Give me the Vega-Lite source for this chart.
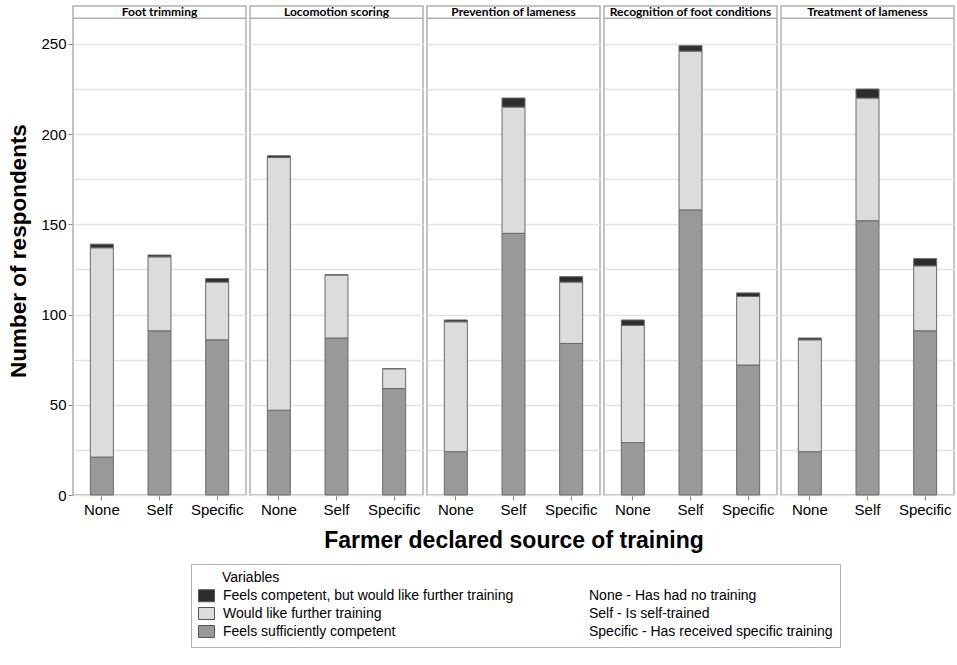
{
  "$schema": "https://vega.github.io/schema/vega-lite/v6.json",
  "description": "Stacked bars of respondents by training source, faceted by task.",
  "background": "white",
  "padding": {"left": 7, "top": 5, "right": 4, "bottom": 5},
  "bounds": "flush",
  "data": {
    "values": [
      {"Task": "Foot trimming", "Source": "None", "Variable": "Feels sufficiently competent", "Count": 21},
      {"Task": "Foot trimming", "Source": "None", "Variable": "Would like further training", "Count": 116},
      {"Task": "Foot trimming", "Source": "None", "Variable": "Feels competent, but would like further training", "Count": 2},
      {"Task": "Foot trimming", "Source": "Self", "Variable": "Feels sufficiently competent", "Count": 91},
      {"Task": "Foot trimming", "Source": "Self", "Variable": "Would like further training", "Count": 41},
      {"Task": "Foot trimming", "Source": "Self", "Variable": "Feels competent, but would like further training", "Count": 1},
      {"Task": "Foot trimming", "Source": "Specific", "Variable": "Feels sufficiently competent", "Count": 86},
      {"Task": "Foot trimming", "Source": "Specific", "Variable": "Would like further training", "Count": 32},
      {"Task": "Foot trimming", "Source": "Specific", "Variable": "Feels competent, but would like further training", "Count": 2},
      {"Task": "Locomotion scoring", "Source": "None", "Variable": "Feels sufficiently competent", "Count": 47},
      {"Task": "Locomotion scoring", "Source": "None", "Variable": "Would like further training", "Count": 140},
      {"Task": "Locomotion scoring", "Source": "None", "Variable": "Feels competent, but would like further training", "Count": 1},
      {"Task": "Locomotion scoring", "Source": "Self", "Variable": "Feels sufficiently competent", "Count": 87},
      {"Task": "Locomotion scoring", "Source": "Self", "Variable": "Would like further training", "Count": 35},
      {"Task": "Locomotion scoring", "Source": "Self", "Variable": "Feels competent, but would like further training", "Count": 0},
      {"Task": "Locomotion scoring", "Source": "Specific", "Variable": "Feels sufficiently competent", "Count": 59},
      {"Task": "Locomotion scoring", "Source": "Specific", "Variable": "Would like further training", "Count": 11},
      {"Task": "Locomotion scoring", "Source": "Specific", "Variable": "Feels competent, but would like further training", "Count": 0},
      {"Task": "Prevention of lameness", "Source": "None", "Variable": "Feels sufficiently competent", "Count": 24},
      {"Task": "Prevention of lameness", "Source": "None", "Variable": "Would like further training", "Count": 72},
      {"Task": "Prevention of lameness", "Source": "None", "Variable": "Feels competent, but would like further training", "Count": 1},
      {"Task": "Prevention of lameness", "Source": "Self", "Variable": "Feels sufficiently competent", "Count": 145},
      {"Task": "Prevention of lameness", "Source": "Self", "Variable": "Would like further training", "Count": 70},
      {"Task": "Prevention of lameness", "Source": "Self", "Variable": "Feels competent, but would like further training", "Count": 5},
      {"Task": "Prevention of lameness", "Source": "Specific", "Variable": "Feels sufficiently competent", "Count": 84},
      {"Task": "Prevention of lameness", "Source": "Specific", "Variable": "Would like further training", "Count": 34},
      {"Task": "Prevention of lameness", "Source": "Specific", "Variable": "Feels competent, but would like further training", "Count": 3},
      {"Task": "Recognition of foot conditions", "Source": "None", "Variable": "Feels sufficiently competent", "Count": 29},
      {"Task": "Recognition of foot conditions", "Source": "None", "Variable": "Would like further training", "Count": 65},
      {"Task": "Recognition of foot conditions", "Source": "None", "Variable": "Feels competent, but would like further training", "Count": 3},
      {"Task": "Recognition of foot conditions", "Source": "Self", "Variable": "Feels sufficiently competent", "Count": 158},
      {"Task": "Recognition of foot conditions", "Source": "Self", "Variable": "Would like further training", "Count": 88},
      {"Task": "Recognition of foot conditions", "Source": "Self", "Variable": "Feels competent, but would like further training", "Count": 3},
      {"Task": "Recognition of foot conditions", "Source": "Specific", "Variable": "Feels sufficiently competent", "Count": 72},
      {"Task": "Recognition of foot conditions", "Source": "Specific", "Variable": "Would like further training", "Count": 38},
      {"Task": "Recognition of foot conditions", "Source": "Specific", "Variable": "Feels competent, but would like further training", "Count": 2},
      {"Task": "Treatment of lameness", "Source": "None", "Variable": "Feels sufficiently competent", "Count": 24},
      {"Task": "Treatment of lameness", "Source": "None", "Variable": "Would like further training", "Count": 62},
      {"Task": "Treatment of lameness", "Source": "None", "Variable": "Feels competent, but would like further training", "Count": 1},
      {"Task": "Treatment of lameness", "Source": "Self", "Variable": "Feels sufficiently competent", "Count": 152},
      {"Task": "Treatment of lameness", "Source": "Self", "Variable": "Would like further training", "Count": 68},
      {"Task": "Treatment of lameness", "Source": "Self", "Variable": "Feels competent, but would like further training", "Count": 5},
      {"Task": "Treatment of lameness", "Source": "Specific", "Variable": "Feels sufficiently competent", "Count": 91},
      {"Task": "Treatment of lameness", "Source": "Specific", "Variable": "Would like further training", "Count": 36},
      {"Task": "Treatment of lameness", "Source": "Specific", "Variable": "Feels competent, but would like further training", "Count": 4}
    ]
  },
  "transform": [
    {
      "calculate": "indexof(['Feels sufficiently competent', 'Would like further training', 'Feels competent, but would like further training'], datum.Variable)",
      "as": "stackOrder"
    }
  ],
  "facet": {
    "column": {
      "field": "Task",
      "type": "nominal",
      "header": {
        "labels": false,
        "title": "Farmer declared source of training",
        "titleOrient": "bottom",
        "titleFont": "Liberation Sans",
        "titleFontSize": 23,
        "titleFontWeight": "bold",
        "titleColor": "black",
        "titlePadding": 3
      }
    }
  },
  "spacing": 4,
  "spec": {
    "width": 173,
    "height": 489,
    "layer": [
      {
        "mark": {"type": "bar", "size": 23, "stroke": "#6a6a6a", "strokeWidth": 1},
        "encoding": {
          "x": {
            "field": "Source",
            "type": "nominal",
            "scale": {"domain": ["None", "Self", "Specific"], "paddingInner": 0, "paddingOuter": 0},
            "axis": {
              "title": null,
              "labelAngle": 0,
              "labelFont": "Liberation Sans",
              "labelFontSize": 15,
              "labelColor": "black",
              "labelPadding": 2,
              "tickColor": "#888888",
              "tickSize": 5,
              "domain": false,
              "grid": false
            }
          },
          "y": {
            "field": "Count",
            "type": "quantitative",
            "stack": "zero",
            "title": "Number of respondents",
            "scale": {"domain": [0, 271], "nice": false},
            "axis": {
              "values": [0, 25, 50, 75, 100, 125, 150, 175, 200, 225, 250],
              "labelExpr": "datum.value % 50 == 0 ? datum.label : ''",
              "titleFont": "Liberation Sans",
              "titleFontSize": 22.5,
              "titleFontWeight": "bold",
              "titleColor": "black",
              "titlePadding": 10,
              "labelFont": "Liberation Sans",
              "labelFontSize": 15,
              "labelColor": "black",
              "tickColor": "#888888",
              "tickSize": 5,
              "tickOpacity": {"condition": {"test": "datum.value % 50 != 0", "value": 0}, "value": 1},
              "gridColor": "#e3e3e3",
              "gridWidth": 1.5,
              "domain": false
            }
          },
          "color": {
            "field": "Variable",
            "type": "nominal",
            "scale": {
              "domain": [
                "Feels competent, but would like further training",
                "Would like further training",
                "Feels sufficiently competent",
                "None - Has had no training",
                "Self - Is self-trained",
                "Specific - Has received specific training"
              ],
              "range": ["#2d2d2d", "#dcdcdc", "#999999", "#ffffff", "#ffffff", "#ffffff"]
            },
            "legend": {
              "orient": "none",
              "legendX": 118,
              "legendY": 558,
              "title": "Variables",
              "columns": 2,
              "direction": "vertical",
              "symbolType": "M-1,-0.75H1V0.75H-1Z",
              "symbolSize": 256,
              "symbolStrokeColor": "#555555",
              "symbolStrokeWidth": 1,
              "labelFont": "Liberation Sans",
              "labelFontSize": 14,
              "labelColor": "black",
              "labelLimit": 400,
              "labelOffset": 8,
              "titleFont": "Liberation Sans",
              "titleFontSize": 14,
              "titleFontWeight": "normal",
              "titleColor": "black",
              "titlePadding": 2,
              "strokeColor": "#b0b0b0",
              "padding": 7,
              "columnPadding": 50,
              "rowPadding": 1,
              "encode": {
                "symbols": {"update": {"opacity": {"signal": "indexof(datum.value, ' - ') > 0 ? 0 : 1"}}},
                "title": {"update": {"dx": {"value": 24}}}
              }
            }
          },
          "order": {"field": "stackOrder", "type": "quantitative"}
        }
      },
      {
        "transform": [{"filter": "datum.Source == 'None' && datum.stackOrder == 0"}],
        "mark": {"type": "rule", "color": "#b0b0b0", "strokeWidth": 1.5},
        "encoding": {"y": {"datum": 264.2, "title": "Number of respondents"}}
      },
      {
        "transform": [{"filter": "datum.Source == 'None' && datum.stackOrder == 0"}],
        "mark": {"type": "text", "font": "Lato", "fontSize": 12, "fontWeight": "bold", "color": "black", "baseline": "middle"},
        "encoding": {
          "y": {"datum": 267.6, "title": "Number of respondents"},
          "text": {"field": "Task"}
        }
      }
    ]
  },
  "config": {
    "view": {"stroke": "#b0b0b0", "strokeWidth": 1.5}
  }
}
